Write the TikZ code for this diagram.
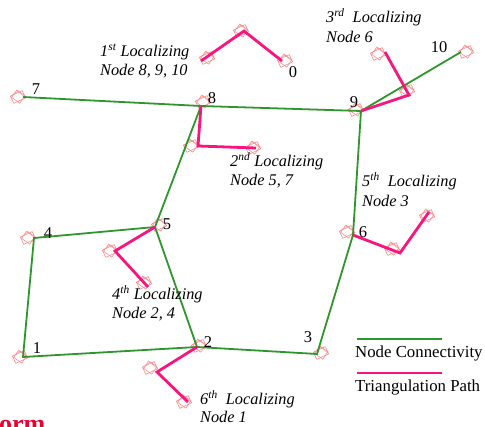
\documentclass[tikz,border=0pt]{standalone}
\usepackage{fontspec}
\setmainfont{Liberation Serif}
\definecolor{conn}{RGB}{45,150,45}
\definecolor{tri}{RGB}{250,20,125}
\definecolor{errc}{RGB}{250,140,140}
\definecolor{brand}{RGB}{235,0,50}
\begin{document}
\begin{tikzpicture}[x=1pt,y=-1pt,
  connline/.style={draw=conn,line width=1.8pt},
  triline/.style={draw=tri,line width=2.8pt,line join=miter},
  numlab/.style={inner sep=0pt,font=\fontsize{16.5}{18}\selectfont},
  loclab/.style={inner sep=0pt,anchor=base west,font=\fontsize{16.3}{18}\selectfont\itshape},
  leglab/.style={inner sep=0pt,anchor=base west,font=\fontsize{16.8}{18}\selectfont},
  errbox/.pic={
    \draw[errc,line width=0.6pt,rotate=25] (-6.5,-4) rectangle (6.5,4);
    \draw[errc,line width=0.6pt,rotate=-35] (-5,-5) rectangle (5,4);
    \draw[errc,line width=0.5pt] (-8,0) -- (0,-6) -- (8,1);
  }]
\useasboundingbox (0,0) rectangle (485,427);
\clip (0,0) rectangle (485,427);
% node positions
\coordinate (n0) at (282,61);
\coordinate (n1) at (23,357);
\coordinate (n2) at (197,347);
\coordinate (n3) at (317,354);
\coordinate (n4) at (34,238);
\coordinate (n5) at (155,227);
\coordinate (n6) at (353,235);
\coordinate (n7) at (23,97);
\coordinate (n8) at (201,106);
\coordinate (n9) at (361,111);
\coordinate (n10) at (461,52);
% triangulation intermediate points
\coordinate (a1) at (201,61);  \coordinate (a2) at (244,31);
\coordinate (b1) at (198,146); \coordinate (b2) at (256,148);
\coordinate (c1) at (409,95);  \coordinate (c2) at (385,52);
\coordinate (d1) at (115,251); \coordinate (d2) at (148,287);
\coordinate (e1) at (400,253); \coordinate (e2) at (429,212);
\coordinate (f1) at (157,372); \coordinate (f2) at (188,402);
% error glyphs
\foreach \p/\dx/\dy in {n0/3/0,n1/-3/0,n2/2/-1,n3/4/-1,n4/-6/0,n5/4/-2,n6/-6/-3,n7/-5/0,n8/2/-4,n9/-5/-1,n10/5/0,
  a1/6/-3,a2/-3/0,b1/-7/0,b2/-3/0,c1/-2/-4,c2/-7/2,d1/-5/0,d2/-4/-4,e1/-8/-4,e2/-2/4,f1/-7/-4,f2/-4/0}
  \pic at ([shift={(\dx,\dy)}]\p) {errbox};
% connectivity
\draw[connline] (n7) -- (n8) -- (n9) -- (n10);
\draw[connline] (n9) -- (n6) -- (n3) -- (n2) -- (n1) -- (n4) -- (n5) -- (n2);
\draw[connline] (n5) -- (n8);
% triangulation paths
\draw[triline] (a1) -- (a2) -- (n0);
\draw[triline] (n8) -- (b1) -- (b2);
\draw[triline] (n9) -- (c1) -- (c2);
\draw[triline] (n5) -- (d1) -- (d2);
\draw[triline] (n6) -- (e1) -- (e2);
\draw[triline] (n2) -- (f1) -- (f2);
% number labels
\node[numlab] (l0) at (293,72) {0};
\node[numlab] (l1) at (37,348) {1};
\node[numlab] (l2) at (208,342) {2};
\node[numlab] (l3) at (308,337) {3};
\node[numlab] (l4) at (48,233) {4};
\node[numlab] (l5) at (167,224) {5};
\node[numlab] (l6) at (363,232) {6};
\node[numlab] (l7) at (36,89) {7};
\node[numlab] (l8) at (212,98) {8};
\node[numlab] (l9) at (354,102) {9};
\node[numlab] (l10) at (439,47) {10};
% localizing labels
\node[loclab] (t1a) at (100,57) {1\textsuperscript{st} Localizing};
\node[loclab] (t1b) at (100,76) {Node 8, 9, 10};
\node[loclab] (t2a) at (230,167) {2\textsuperscript{nd} Localizing};
\node[loclab] (t2b) at (230,186) {Node 5, 7};
\node[loclab] (t3a) at (326,23) {3\textsuperscript{rd}\ \ Localizing};
\node[loclab] (t3b) at (326,43) {Node 6};
\node[loclab] (t4a) at (112,300) {4\textsuperscript{th} Localizing};
\node[loclab] (t4b) at (112,319) {Node 2, 4};
\node[loclab] (t5a) at (362,187) {5\textsuperscript{th}\ \ Localizing};
\node[loclab] (t5b) at (362,207) {Node 3};
\node[loclab] (t6a) at (200,405) {6\textsuperscript{th}\ \ Localizing};
\node[loclab] (t6b) at (200,423) {Node 1};
% legend
\coordinate (g1) at (357,339); \coordinate (g2) at (442,339);
\coordinate (h1) at (357,373); \coordinate (h2) at (442,373);
\draw[connline] (g1) -- (g2);
\draw[triline] (h1) -- (h2);
\node[leglab] (lg1) at (355,358) {Node Connectivity};
\node[leglab] (lg2) at (355,392) {Triangulation Path};
% clipped title fragment (cut off by the frame, as in the reference)
\node[inner sep=0pt,anchor=base west,text=brand,font=\fontsize{26}{28}\selectfont\bfseries] (frag) at (-1,433) {orm};
\end{tikzpicture}
\end{document}
